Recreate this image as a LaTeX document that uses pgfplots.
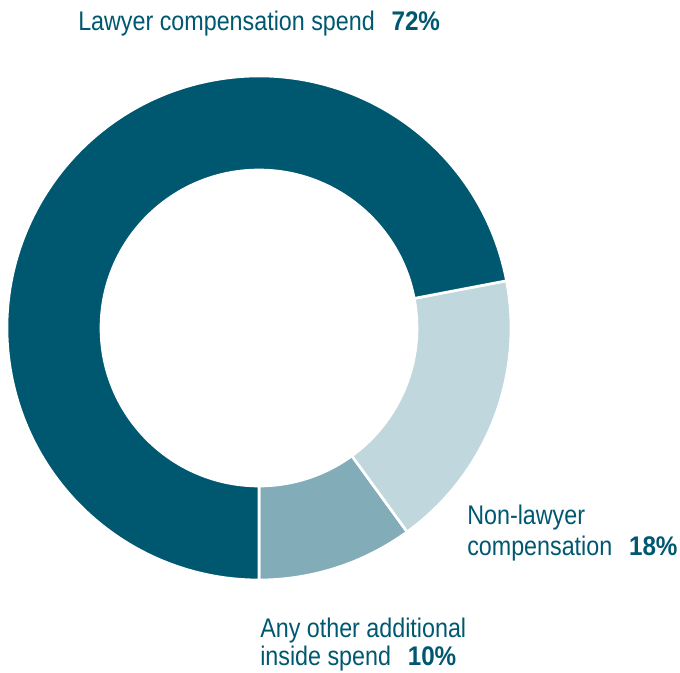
\documentclass[border=0pt]{standalone}
\usepackage{pgfplots}
\usepackage{pgfplotstable}
\pgfplotsset{compat=1.18}
\usetikzlibrary{calc}
\usepackage{fontspec}
\setmainfont{Liberation Sans}[FakeStretch=0.865,BoldFeatures={FakeStretch=0.9}]
\definecolor{cdark}{HTML}{005870}
\definecolor{clight}{HTML}{C1D7DE}
\definecolor{cmid}{HTML}{82ADB8}
\pgfplotstableread{
label value
Other 10
NonLawyer 18
Lawyer 72
}\piedata
\begin{document}
\begin{tikzpicture}
\pgfplotstablegetelem{0}{value}\of\piedata \let\va\pgfplotsretval
\pgfplotstablegetelem{1}{value}\of\piedata \let\vb\pgfplotsretval
\pgfplotstablegetelem{2}{value}\of\piedata \let\vc\pgfplotsretval
\pgfmathsetmacro{\aA}{-90}
\pgfmathsetmacro{\aB}{\aA+3.6*\va}
\pgfmathsetmacro{\aC}{\aB+3.6*\vb}
\pgfmathsetmacro{\aD}{\aC+3.6*\vc}
\def\Ro{189pt}
\def\Ri{118.5pt}
\begin{axis}[x=0.75pt,y=0.75pt,xmin=0,xmax=680,ymin=0,ymax=672,
  hide axis,clip=false,scale only axis,anchor=origin,at={(0,0)}]
\coordinate (C) at (axis cs:259,344);
\path[draw=white,line width=2pt,fill=cmid] (C) ++(\aA:\Ro) arc[start angle=\aA,end angle=\aB,radius=\Ro] -- ($(C)+(\aB:\Ri)$) arc[start angle=\aB,end angle=\aA,radius=\Ri] -- cycle;
\path[draw=white,line width=2pt,fill=clight] (C) ++(\aB:\Ro) arc[start angle=\aB,end angle=\aC,radius=\Ro] -- ($(C)+(\aC:\Ri)$) arc[start angle=\aC,end angle=\aB,radius=\Ri] -- cycle;
\path[draw=white,line width=2pt,fill=cdark] (C) ++(\aC:\Ro) arc[start angle=\aC,end angle=\aD,radius=\Ro] -- ($(C)+(\aD:\Ri)$) arc[start angle=\aD,end angle=\aC,radius=\Ri] -- cycle;
\tikzset{lab/.style={anchor=base west,inner sep=0pt,text=cdark,font=\fontsize{20.2}{22.5}\selectfont}}
\node[lab] at (axis cs:78,{672-31}) {Lawyer compensation spend\hspace{0.62em}\textbf{72\%}};
\node[lab] at (axis cs:467,{672-524}) {Non-lawyer};
\node[lab] at (axis cs:467,{672-555}) {compensation\hspace{0.62em}\textbf{18\%}};
\node[lab] at (axis cs:260,{672-637}) {Any other additional};
\node[lab] at (axis cs:260,{672-665}) {inside spend\hspace{0.62em}\textbf{10\%}};
\end{axis}
\pgfresetboundingbox
\path (0,0) rectangle (510pt,504pt);
\end{tikzpicture}
\end{document}
